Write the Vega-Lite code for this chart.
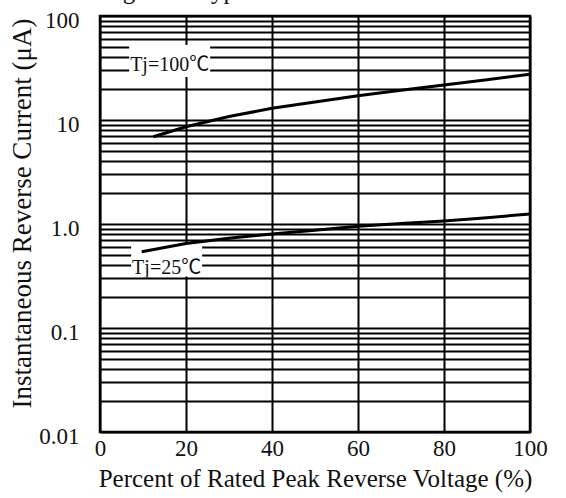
{
  "$schema": "https://vega.github.io/schema/vega-lite/v6.json",
  "width": 430,
  "height": 416,
  "autosize": {"type": "none"},
  "padding": {"left": 100, "top": 16, "right": 36, "bottom": 66},
  "background": "white",
  "title": {
    "text": "Fig. 3 — Typical Reverse Characteristics",
    "anchor": "start",
    "frame": "group",
    "baseline": "alphabetic",
    "offset": 0,
    "dy": 15,
    "dx": 2,
    "font": "Liberation Serif",
    "fontSize": 25,
    "fontWeight": "normal",
    "color": "#111"
  },
  "config": {
    "view": {"stroke": "black", "strokeWidth": 2.5},
    "font": "Liberation Serif",
    "axis": {
      "domain": false,
      "ticks": false,
      "grid": true,
      "gridColor": "#000",
      "gridWidth": 2,
      "gridOpacity": 1,
      "labelFont": "Liberation Serif",
      "labelFontSize": 23,
      "labelColor": "#111",
      "labelOverlap": false,
      "titleFont": "Liberation Serif",
      "titleFontSize": 25,
      "titleFontWeight": "normal",
      "titleColor": "#111"
    }
  },
  "datasets": {
    "curves": [
      {"series": "Tj=100", "pct": 12.4, "current": 6.9},
      {"series": "Tj=100", "pct": 20, "current": 8.6},
      {"series": "Tj=100", "pct": 30, "current": 10.8},
      {"series": "Tj=100", "pct": 40, "current": 12.95},
      {"series": "Tj=100", "pct": 50, "current": 14.9},
      {"series": "Tj=100", "pct": 60, "current": 17.1},
      {"series": "Tj=100", "pct": 70, "current": 19.3},
      {"series": "Tj=100", "pct": 80, "current": 21.7},
      {"series": "Tj=100", "pct": 90, "current": 24.4},
      {"series": "Tj=100", "pct": 100, "current": 27.5},
      {"series": "Tj=25", "pct": 9.7, "current": 0.54},
      {"series": "Tj=25", "pct": 20, "current": 0.65},
      {"series": "Tj=25", "pct": 30, "current": 0.73},
      {"series": "Tj=25", "pct": 40, "current": 0.8},
      {"series": "Tj=25", "pct": 50, "current": 0.87},
      {"series": "Tj=25", "pct": 60, "current": 0.95},
      {"series": "Tj=25", "pct": 70, "current": 1.01},
      {"series": "Tj=25", "pct": 80, "current": 1.07},
      {"series": "Tj=25", "pct": 90, "current": 1.15},
      {"series": "Tj=25", "pct": 100, "current": 1.25}
    ],
    "labels": [
      {"label": "Tj=100℃", "pct": 16.2, "current": 33.8},
      {"label": "Tj=25℃", "pct": 15.5, "current": 0.377}
    ]
  },
  "layer": [
    {
      "data": {"name": "labels"},
      "transform": [{"filter": "datum.label == 'Tj=100℃'"}],
      "mark": {"type": "rect", "color": "white", "width": 81, "height": 32, "yOffset": -4},
      "encoding": {
        "x": {"field": "pct", "type": "quantitative"},
        "y": {"field": "current", "type": "quantitative"}
      }
    },
    {
      "data": {"name": "labels"},
      "transform": [{"filter": "datum.label == 'Tj=25℃'"}],
      "mark": {"type": "rect", "color": "white", "width": 71, "height": 33, "yOffset": -8},
      "encoding": {
        "x": {"field": "pct", "type": "quantitative"},
        "y": {"field": "current", "type": "quantitative"}
      }
    },
    {
      "data": {"name": "curves"},
      "mark": {"type": "line", "color": "#000", "strokeWidth": 3},
      "encoding": {
        "x": {
          "field": "pct",
          "type": "quantitative",
          "scale": {"domain": [0, 100], "nice": false, "zero": false},
          "axis": {
            "values": [0, 20, 40, 60, 80, 100],
            "title": "Percent of Rated Peak Reverse Voltage (%)",
            "labelFlush": false,
            "labelPadding": 5,
            "titleX": 215,
            "titleY": 46,
            "titleBaseline": "middle",
            "titleAnchor": "middle"
          }
        },
        "y": {
          "field": "current",
          "type": "quantitative",
          "scale": {"type": "log", "domain": [0.01, 100], "nice": false},
          "axis": {
            "values": [0.01, 0.02, 0.03, 0.04, 0.05, 0.06, 0.07, 0.08, 0.09, 0.1, 0.2, 0.3, 0.4, 0.5, 0.6, 0.7, 0.8, 0.9, 1, 2, 3, 4, 5, 6, 7, 8, 9, 10, 20, 30, 40, 50, 60, 70, 80, 90, 100],
            "labelExpr": "datum.value == 100 ? '100' : datum.value == 10 ? '10' : datum.value == 1 ? '1.0' : datum.value == 0.1 ? '0.1' : datum.value == 0.01 ? '0.01' : ''",
            "labelPadding": 21,
            "labelOffset": 4,
            "title": "Instantaneous Reverse Current (μA)",
            "titleFontSize": 27,
            "titleX": -78,
            "titleY": 197,
            "titleAngle": -90,
            "titleBaseline": "middle",
            "titleAnchor": "middle"
          }
        },
        "detail": {"field": "series", "type": "nominal"}
      }
    },
    {
      "data": {"name": "labels"},
      "mark": {"type": "text", "font": "Liberation Serif, Noto Sans CJK SC", "fontSize": 20, "color": "#111", "baseline": "middle", "align": "center"},
      "encoding": {
        "x": {"field": "pct", "type": "quantitative"},
        "y": {"field": "current", "type": "quantitative"},
        "text": {"field": "label", "type": "nominal"}
      }
    }
  ]
}
